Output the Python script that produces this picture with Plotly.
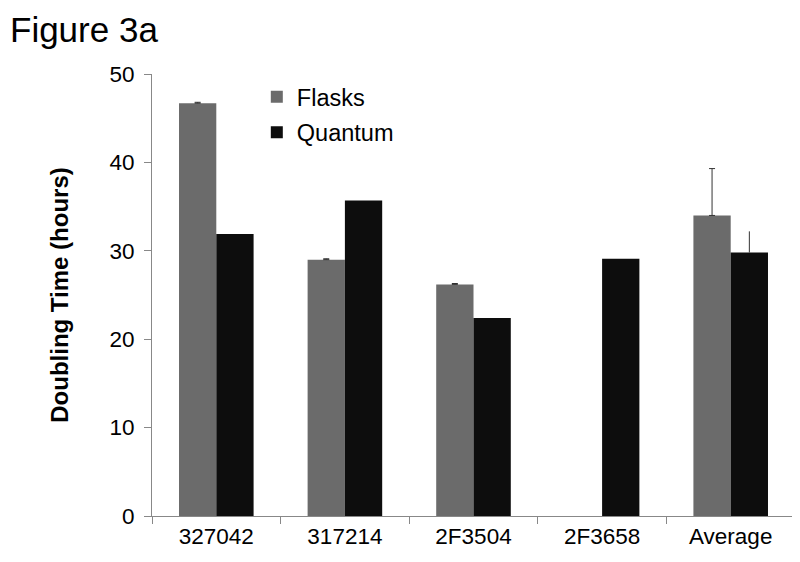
import plotly.graph_objects as go

# data
categories = ["327042", "317214", "2F3504", "2F3658", "Average"]
flasks = [46.7, 29.0, 26.2, None, 34.0]
flasks_err = [0.1, 0.1, 0.1, None, 5.3]
quantum = [31.9, 35.7, 22.4, 29.1, 29.8]
quantum_err = [None, None, None, None, 2.4]

font = "Liberation Sans, Arial, sans-serif"

fig = go.Figure()
fig.add_trace(go.Bar(
    x=categories, y=flasks, name="Flasks", legendgroup="f",
    marker=dict(color="#6b6b6b", line=dict(width=0)),
    error_y=dict(type="data", array=flasks_err, arrayminus=[0] * 5, symmetric=False,
                 color="#333333", thickness=1, width=3),
))
fig.add_trace(go.Bar(
    x=categories, y=quantum, name="Quantum", legendgroup="q",
    marker=dict(color="#0d0d0d", line=dict(width=0)),
    error_y=dict(type="data", array=quantum_err, arrayminus=[0] * 5, symmetric=False,
                 color="#333333", thickness=1, width=0),
))

# page body adds an 8px offset, so the figure is 8px smaller and margins shifted
fig.update_layout(
    width=792, height=554,
    margin=dict(l=144, r=5, t=66, b=46),
    paper_bgcolor="white", plot_bgcolor="white",
    barmode="group", bargap=0.42, bargroupgap=0,
    font=dict(family=font, color="black"),
    showlegend=True,
    legend=dict(x=0.163, y=0.998, xanchor="left", yanchor="top",
                font=dict(size=23.5), itemwidth=30, tracegroupgap=2,
                bgcolor="rgba(0,0,0,0)"),
    annotations=[dict(text="Figure 3a", x=0, y=1, xref="paper", yref="paper",
                      xanchor="left", yanchor="top", showarrow=False,
                      font=dict(size=35), xshift=-144, yshift=66)],
)
fig.update_yaxes(
    range=[0, 50], dtick=10, showgrid=False, zeroline=False, automargin=False,
    showline=True, linecolor="#888888", linewidth=1,
    ticks="outside", ticklen=7, tickcolor="#888888",
    tickfont=dict(size=22.5), ticklabelstandoff=5,
    title=dict(text="<b>Doubling Time (hours)</b>", font=dict(size=24), standoff=34),
)
fig.update_xaxes(
    showgrid=False, automargin=False,
    showline=True, linecolor="#888888", linewidth=1,
    ticks="outside", tickson="boundaries", ticklen=7, tickcolor="#888888",
    tickfont=dict(size=22.5),
)

fig.write_html("out.html")
